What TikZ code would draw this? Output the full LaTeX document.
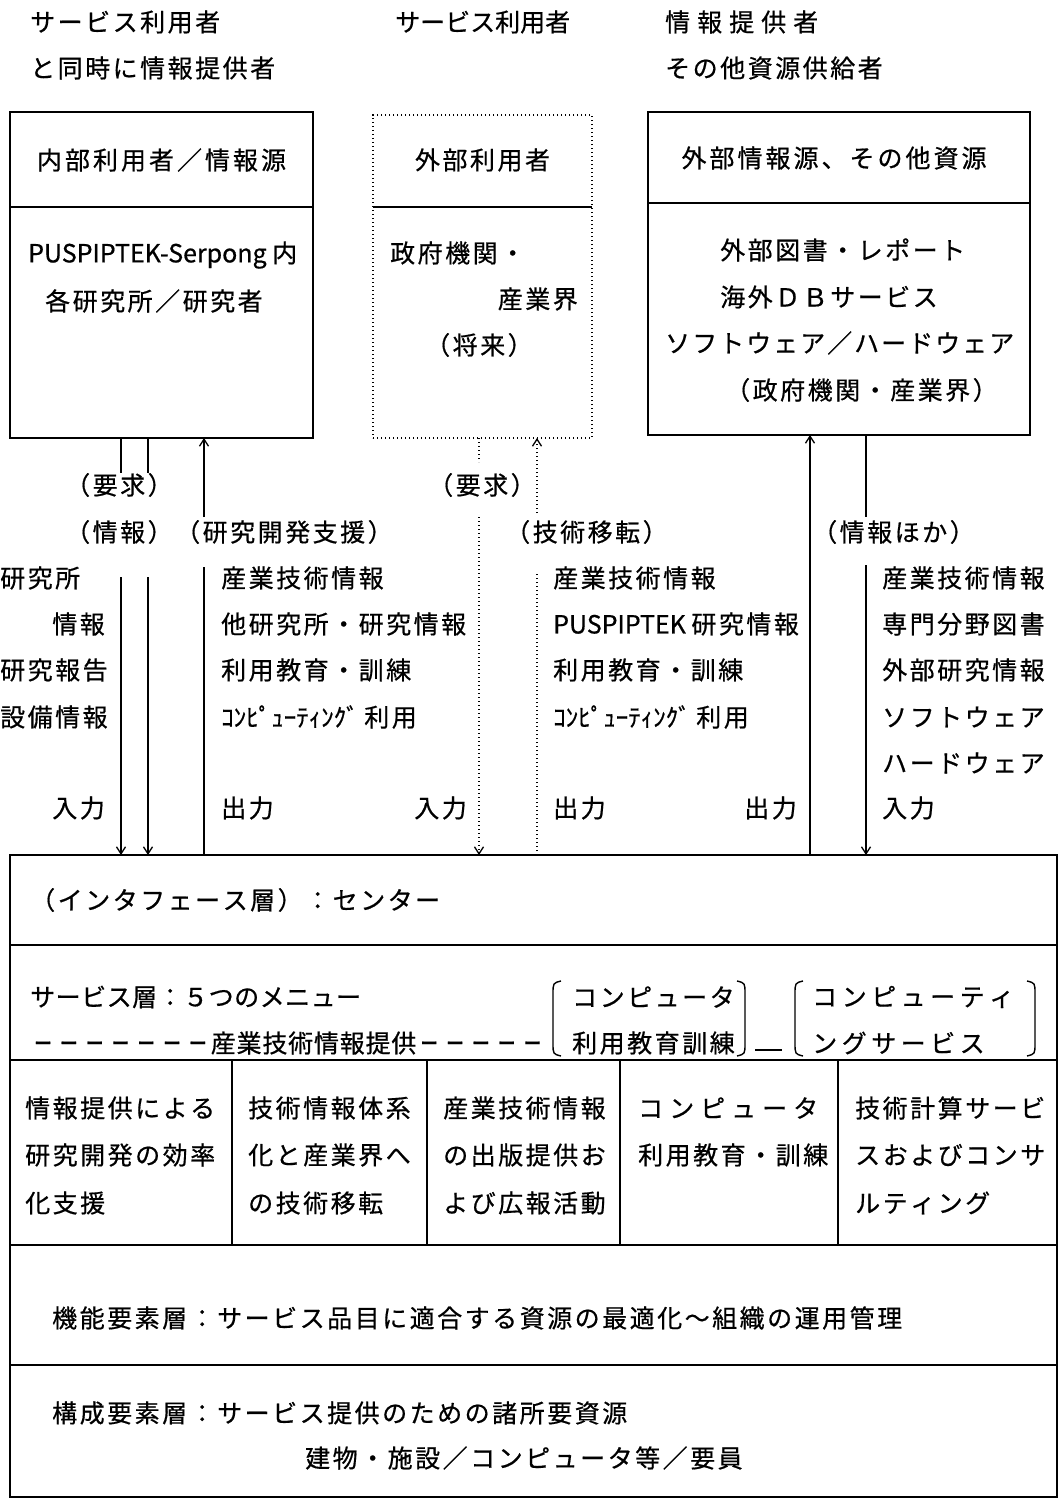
\documentclass[tikz,border=0pt]{standalone}
\usepackage{fontspec}
\usepackage{graphicx}
\setmainfont{Noto Sans CJK JP}[FakeBold=0.6]
\usetikzlibrary{arrows.meta}
\makeatletter
\newcommand\spc[2]{\def\spc@gap{\hspace{#1}}\spc@first#2\relax}
\def\spc@first#1{#1\spc@loop}
\def\spc@loop#1{\ifx#1\relax\else\spc@gap#1\expandafter\spc@loop\fi}
\makeatother
\newcommand\J[1]{\spc{2.5pt}{#1}}
\newcommand\dsh{\makebox[25.8pt]{\scalebox{0.72}[1]{ー}}}
\tikzset{
  txt/.style={inner sep=0pt, font=\fontsize{25}{25}\selectfont, anchor=west},
  rtxt/.style={txt, anchor=east},
  boxst/.style={draw, line width=1.6pt, inner sep=0pt},
  dotbox/.style={draw, line width=1.6pt, dash pattern=on 1.4pt off 2.6pt, inner sep=0pt},
  ln/.style={line width=1.5pt},
  dln/.style={line width=1.5pt, dash pattern=on 1.4pt off 2.6pt},
  arr/.style={-{Straight Barb[length=7pt,width=9pt,line width=1.3pt]}},
  paren/.style={line width=1.4pt}
}
\begin{document}
\begin{tikzpicture}[x=1pt,y=-1pt]
\useasboundingbox (0,0) rectangle (1062,1512);
\fill[white] (0,0) rectangle (1062,1512);

% top labels
\node[txt] (t1) at (30,22) {\J{サービス利用者}};
\node[txt] (t2) at (30,68) {\J{と同時に情報提供者}};
\node[txt] (t3) at (395,22) {\spc{0pt}{サービス利用者}};
\node[txt] (t4) at (665,22) {\spc{7pt}{情報提供者}};
\node[txt] (t5) at (665,68) {\J{その他資源供給者}};

% left box
\node[boxst, minimum width=303pt, minimum height=326pt] (L) at (161.5,275) {};
\draw[ln] (10,207) -- (313,207);
\node[txt, anchor=center] (Lh) at (161.5,160) {\spc{3pt}{内部利用者／情報源}};
\node[txt] (Lb1) at (28,255) {PUSPIPTEK-Serpong\ 内};
\node[txt] (Lb2) at (45,301) {\J{各研究所／研究者}};

% middle dotted box
\node[dotbox, minimum width=219pt, minimum height=323pt] (M) at (482.5,276.5) {};
\draw[ln] (373,207) -- (592,207);
\node[txt, anchor=center] (Mh) at (482.5,160) {\J{外部利用者}};
\node[txt] (Mb1) at (390,253) {\J{政府機関・}};
\node[rtxt] (Mb2) at (578,299) {\J{産業界}};
\node[txt] (Mb3) at (425,345) {\J{（将来）}};

% right box
\node[boxst, minimum width=382pt, minimum height=323pt] (R) at (839,273.5) {};
\draw[ln] (648,203) -- (1030,203);
\node[txt, anchor=center] (Rh) at (834,158) {\spc{3pt}{外部情報源、その他資源}};
\node[txt] (Rb1) at (720,250) {\J{外部図書・レポート}};
\node[txt] (Rb2) at (720,297) {\J{海外ＤＢサービス}};
\node[txt] (Rb3) at (665,343) {\spc{2pt}{ソフトウェア／ハードウェア}};
\node[txt] (Rb4) at (725,390) {\J{（政府機関・産業界）}};

% center box
\node[boxst, minimum width=1047pt, minimum height=642pt] (C) at (533.5,1176) {};
\draw[ln] (10,945) -- (1057,945);
\draw[ln] (10,1060) -- (1057,1060);
\draw[ln] (10,1245) -- (1057,1245);
\draw[ln] (10,1365) -- (1057,1365);
\foreach \xx in {232,427,620,838} \draw[ln] (\xx,1060) -- (\xx,1245);

% arrow coordinates
\coordinate (a1t) at (121,438); \coordinate (a1m) at (121,473);
\coordinate (a1n) at (121,577); \coordinate (a1b) at (121,855);
\coordinate (a2t) at (148,438); \coordinate (a2m) at (148,473);
\coordinate (a2n) at (148,577); \coordinate (a2b) at (148,855);
\coordinate (a3t) at (204,438); \coordinate (a3m) at (204,517);
\coordinate (a3n) at (204,567); \coordinate (a3b) at (204,855);
\coordinate (a4t) at (479,438); \coordinate (a4m) at (479,462);
\coordinate (a4n) at (479,517); \coordinate (a4b) at (479,855);
\coordinate (a5t) at (537,438); \coordinate (a5m) at (537,513);
\coordinate (a5n) at (537,573); \coordinate (a5b) at (537,855);
\coordinate (a6t) at (810,435); \coordinate (a6b) at (810,855);
\coordinate (a7t) at (866,435); \coordinate (a7m) at (866,517);
\coordinate (a7n) at (866,565); \coordinate (a7b) at (866,855);

\draw[ln] (a1t) -- (a1m); \draw[ln,arr] (a1n) -- (a1b);
\draw[ln] (a2t) -- (a2m); \draw[ln,arr] (a2n) -- (a2b);
\draw[ln] (a3b) -- (a3n); \draw[ln,arr] (a3m) -- (a3t);
\draw[dln] (a4t) -- (a4m); \draw[dln,arr] (a4n) -- (a4b);
\draw[dln] (a5b) -- (a5n); \draw[dln,arr] (a5m) -- (a5t);
\draw[ln,arr] (a6b) -- (a6t);
\draw[ln] (a7t) -- (a7m); \draw[ln,arr] (a7n) -- (a7b);

% arrow labels
\node[txt] (l1) at (65,485) {\J{（要求）}};
\node[txt] (l2) at (65,532) {\J{（情報）}};
\node[txt] (l3) at (175,532) {\J{（研究開発支援）}};
\node[txt] (l4) at (428,485) {\J{（要求）}};
\node[txt] (l5) at (505,532) {\J{（技術移転）}};
\node[txt] (l6) at (812,532) {\J{（情報ほか）}};

% column 1
\node[txt] (c11) at (0,578) {\J{研究所}};
\node[rtxt] (c12) at (105,624) {\J{情報}};
\node[txt] (c13) at (0,670) {\J{研究報告}};
\node[txt] (c14) at (0,717) {\J{設備情報}};
\node[rtxt] (c15) at (105,808) {\J{入力}};

% column 2
\node[txt] (c21) at (221,578) {\J{産業技術情報}};
\node[txt] (c22) at (221,624) {\J{他研究所・研究情報}};
\node[txt] (c23) at (221,670) {\J{利用教育・訓練}};
\node[txt] (c24) at (221,717) {ｺﾝﾋﾟｭｰﾃｨﾝｸﾞ\ \J{利用}};
\node[txt] (c25) at (221,808) {\J{出力}};
\node[rtxt] (c26) at (467,808) {\J{入力}};

% column 3
\node[txt] (c31) at (553,578) {\J{産業技術情報}};
\node[txt] (c32) at (553,624) {PUSPIPTEK\ \J{研究情報}};
\node[txt] (c33) at (553,670) {\J{利用教育・訓練}};
\node[txt] (c34) at (553,717) {ｺﾝﾋﾟｭｰﾃｨﾝｸﾞ\ \J{利用}};
\node[txt] (c35) at (553,808) {\J{出力}};
\node[rtxt] (c36) at (797,808) {\J{出力}};

% column 4
\node[txt] (c41) at (882,578) {\J{産業技術情報}};
\node[txt] (c42) at (882,624) {\J{専門分野図書}};
\node[txt] (c43) at (882,670) {\J{外部研究情報}};
\node[txt] (c44) at (882,717) {\J{ソフトウェア}};
\node[txt] (c45) at (882,763) {\J{ハードウェア}};
\node[txt] (c46) at (882,808) {\J{入力}};

% interface layer
\node[txt] (i1) at (30,900) {\J{（インタフェース層）：センター}};

% service layer
\node[txt] (s1) at (30,997) {\spc{0.5pt}{サービス層：５つのメニュー}};
\node[txt] (s2) at (30,1043) {\dsh\dsh\dsh\dsh\dsh\dsh\dsh\spc{0.8pt}{産業技術情報提供}\dsh\dsh\dsh\dsh\dsh};
\draw[paren] (561,981) .. controls (553,983) .. (553,994) -- (553,1043) .. controls (553,1054) .. (561,1056);
\node[txt] (s3) at (572,997) {\J{コンピュータ}};
\node[txt] (s4) at (572,1043) {\J{利用教育訓練}};
\draw[paren] (737,981) .. controls (745,983) .. (745,994) -- (745,1043) .. controls (745,1054) .. (737,1056);
\draw[paren] (755,1050) -- (782,1050);
\draw[paren] (803,981) .. controls (795,983) .. (795,994) -- (795,1043) .. controls (795,1054) .. (803,1056);
\node[txt] (s5) at (812,997) {\spc{4.5pt}{コンピューティ}};
\node[txt] (s6) at (812,1043) {\spc{4.5pt}{ングサービス}};
\draw[paren] (1027,981) .. controls (1035,983) .. (1035,994) -- (1035,1043) .. controls (1035,1054) .. (1027,1056);

% cells
\node[txt] (k11) at (25,1108) {\J{情報提供による}};
\node[txt] (k12) at (25,1155) {\J{研究開発の効率}};
\node[txt] (k13) at (25,1203) {\J{化支援}};
\node[txt] (k21) at (248,1108) {\J{技術情報体系}};
\node[txt] (k22) at (248,1155) {\J{化と産業界へ}};
\node[txt] (k23) at (248,1203) {\J{の技術移転}};
\node[txt] (k31) at (443,1108) {\J{産業技術情報}};
\node[txt] (k32) at (443,1155) {\J{の出版提供お}};
\node[txt] (k33) at (443,1203) {\J{よび広報活動}};
\node[txt] (k41) at (638,1108) {\spc{6pt}{コンピュータ}};
\node[txt] (k42) at (638,1155) {\J{利用教育・訓練}};
\node[txt] (k51) at (855,1108) {\J{技術計算サービ}};
\node[txt] (k52) at (855,1155) {\J{スおよびコンサ}};
\node[txt] (k53) at (855,1203) {\J{ルティング}};

% lower layers
\node[txt] (f1) at (52,1318) {\J{機能要素層：サービス品目に適合する資源の最適化～組織の運用管理}};
\node[txt] (g1) at (52,1413) {\J{構成要素層：サービス提供のための諸所要資源}};
\node[txt] (g2) at (305,1458) {\J{建物・施設／コンピュータ等／要員}};
\end{tikzpicture}
\end{document}
